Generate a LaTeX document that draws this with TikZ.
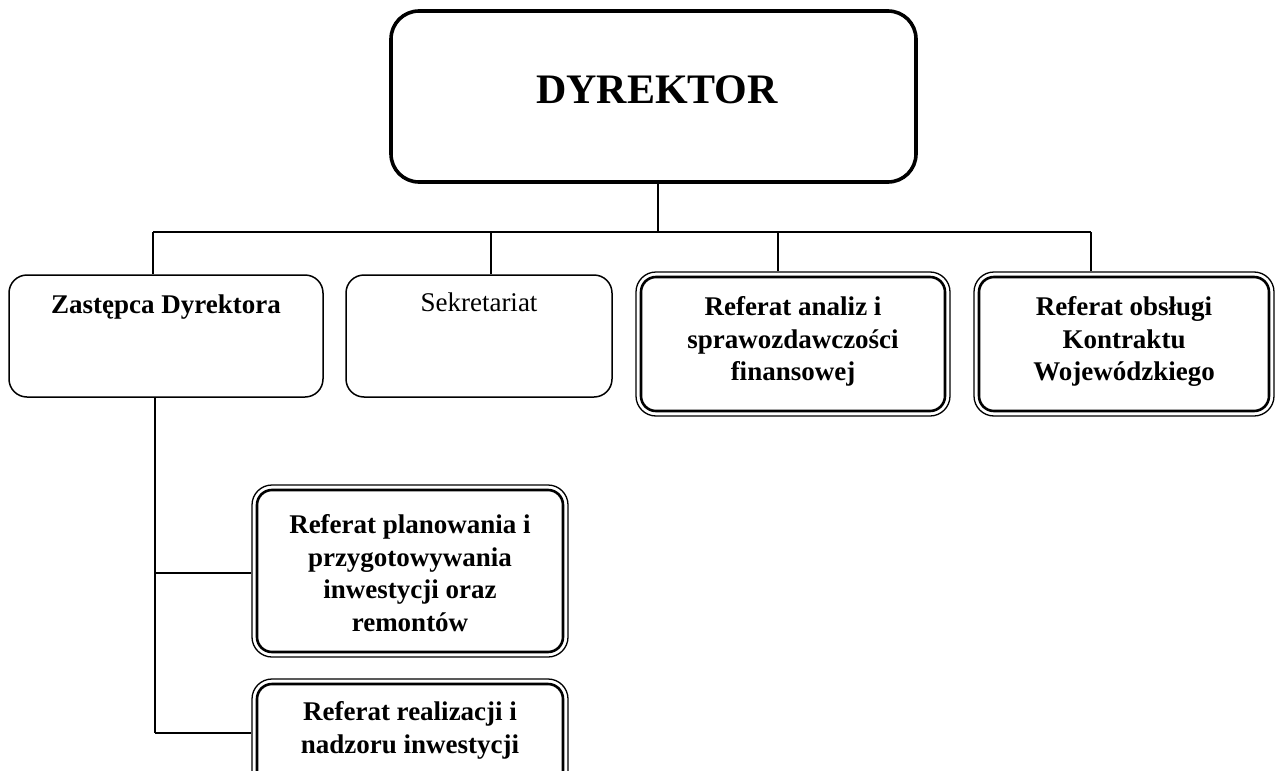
\documentclass[tikz,border=0pt]{standalone}
\usepackage{fontspec}
\setmainfont{Liberation Serif}
\begin{document}
\begin{tikzpicture}[x=1pt,y=-1pt,
  line width=1.3pt,
  conn/.style={line width=1.3pt},
  box/.style={draw, line width=1.5pt, rounded corners=18pt, inner sep=0pt},
  bigbox/.style={draw, line width=3.6pt, rounded corners=28pt, inner sep=0pt},
  dbox/.style={draw, line width=1.3pt, rounded corners=20pt, inner sep=0pt,
    path picture={\draw[line width=2.6pt, rounded corners=15pt]
      ([shift={(5pt,-5pt)}]path picture bounding box.north west) rectangle
      ([shift={(-5pt,5pt)}]path picture bounding box.south east);}},
  lab/.style={inner sep=0pt, align=center, font=\fontsize{27}{32.5}\selectfont\bfseries},
  labr/.style={inner sep=0pt, align=center, font=\fontsize{27}{32.5}\selectfont},
]
\clip (0,0) rectangle (1275,771);
\fill[white] (0,0) rectangle (1275,771);

% boxes
\node[bigbox, minimum width=525pt, minimum height=171pt] (dyr) at (653.5,96.5) {};
\node[box, minimum width=314pt, minimum height=122pt] (zd) at (166,336) {};
\node[box, minimum width=266pt, minimum height=122pt] (sek) at (479,336) {};
\node[dbox, minimum width=314pt, minimum height=144pt] (ana) at (793,344) {};
\node[dbox, minimum width=300pt, minimum height=144pt] (obs) at (1124,344) {};
\node[dbox, minimum width=316pt, minimum height=172pt] (pla) at (410,571) {};
\node[dbox, minimum width=316pt, minimum height=121pt] (rea) at (410,739.5) {};

% texts
\node[inner sep=0pt, anchor=base, font=\fontsize{42}{46}\selectfont\bfseries] (tdyr) at (657,103) {DYREKTOR};
\node[lab, anchor=base] (tzd) at (166,313) {Zastępca Dyrektora};
\node[labr, anchor=base] (tsek) at (479,311) {Sekretariat};
\node[lab, anchor=north] (tana) at (793,296) {Referat analiz i\\sprawozdawczości\\finansowej};
\node[lab, anchor=north] (tobs) at (1124,296) {Referat obsługi\\Kontraktu\\Wojewódzkiego};
\node[lab, anchor=north] (tpla) at (410,514) {Referat planowania i\\przygotowywania\\inwestycji oraz\\remontów};
\node[lab, anchor=north] (trea) at (410,701) {Referat realizacji i\\nadzoru inwestycji};

% connectors
\coordinate (bus) at (658,232);
\coordinate (bl) at (153,232);
\coordinate (br) at (1091,232);
\coordinate (bsek) at (491,232);
\coordinate (bana) at (778,232);
\coordinate (v1) at (155,573);
\coordinate (v2) at (155,733);
\draw[conn] (dyr.south -| bus) -- (bus);
\draw[conn] (bl) -- (br);
\draw[conn] (bl) -- (bl |- zd.north);
\draw[conn] (bsek) -- (bsek |- sek.north);
\draw[conn] (bana) -- (bana |- ana.north);
\draw[conn] (br) -- (br |- obs.north);
\draw[conn] (zd.south -| v1) -- (v2);
\draw[conn] (v1) -- (pla.west |- v1);
\draw[conn] (v2) -- (rea.west |- v2);
\end{tikzpicture}
\end{document}
